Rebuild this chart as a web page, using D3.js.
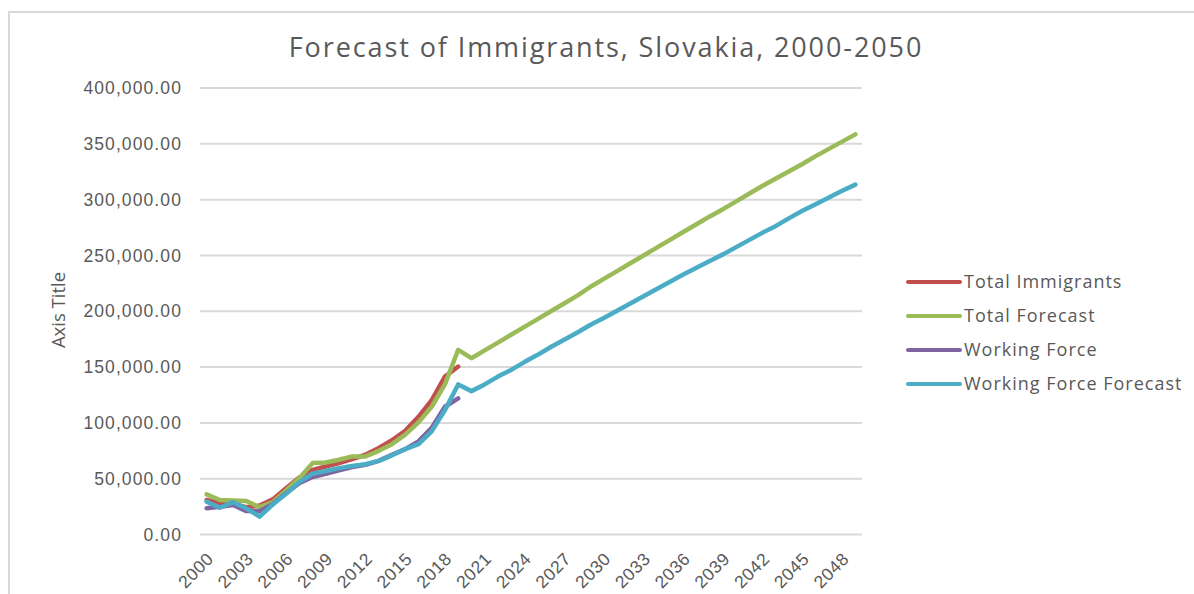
<!DOCTYPE html>
<html>
<head>
<meta charset="utf-8">
<script src="https://cdn.jsdelivr.net/npm/d3@7"></script>
<style>
  html, body { margin: 0; padding: 0; background: #fff; }
  svg { display: block; font-family: "Open Sans", "Liberation Sans", sans-serif; }
</style>
</head>
<body>
<svg id="chart" width="1194" height="594"></svg>
<script>
// Years on the category axis (2000–2049)
const years = d3.range(2000, 2050);

// Observed totals, 2000–2019
const totalImmigrants = [30500, 27500, 27000, 24000, 25500, 31000, 41000, 50500, 57500, 60500,
  63500, 67000, 71000, 77000, 84000, 92500, 105000, 120000, 141000, 150000];

// Total forecast, 2000–2049
const totalForecast = [35500, 30500, 30000, 29500, 24000, 28500, 39000, 50000, 63500, 64000,
  66500, 69500, 69500, 74500, 80500, 89000, 100000, 114000, 134000, 165000,
  157500, 164500, 171500, 178500, 185500, 192500, 199500, 206500, 213500, 221500,
  228500, 235500, 242500, 249500, 256500, 263500, 270500, 277500, 284500, 291000,
  298000, 305000, 312000, 318500, 325000, 331500, 338500, 345000, 351500, 358000];

// Observed working force, 2000–2019
const workingForce = [23000, 24500, 26000, 20500, 20500, 27000, 36500, 45500, 51000, 54000,
  57000, 60000, 62000, 65500, 71000, 76000, 83000, 95000, 114000, 121500];

// Working force forecast, 2000–2049
const workingForceForecast = [29000, 23500, 28500, 23000, 15500, 26500, 36000, 46500, 54000, 56500,
  59000, 61000, 62500, 65500, 70500, 76000, 80500, 92000, 111000, 134000,
  128000, 134000, 141000, 147000, 154000, 160500, 167500, 174000, 180500, 187500,
  193500, 200000, 206500, 213000, 219500, 226000, 232500, 238500, 244500, 250500,
  257000, 263500, 270000, 276000, 283000, 289500, 295500, 301500, 307500, 313000];

const seriesNames = ["Total Immigrants", "Total Forecast", "Working Force", "Working Force Forecast"];
const seriesColors = ["#C0504D", "#9BBB59", "#8064A2", "#4BACC6"];
const seriesValues = [totalImmigrants, totalForecast, workingForce, workingForceForecast];

const yTicks = d3.range(0, 400001, 50000);
const xTickLabels = years.filter((y, i) => i % 3 === 0);

const titleText = "Forecast of Immigrants, Slovakia, 2000-2050";
const yAxisTitle = "Axis Title";

const svg = d3.select("#chart");
const textColor = "#595959";
const gridColor = "#d9d9d9";

// Chart frame
svg.append("rect")
  .attr("x", 9).attr("y", 12)
  .attr("width", 1300).attr("height", 700)
  .attr("fill", "#fff")
  .attr("stroke", gridColor)
  .attr("stroke-width", 2);

const plot = { left: 200, right: 862, top: 87.5, bottom: 534 };

const x = d3.scaleBand().domain(years).range([plot.left, plot.right]);
const y = d3.scaleLinear().domain([0, 400000]).range([plot.bottom, plot.top]);
const px = yr => x(yr) + x.bandwidth() / 2;

// Value axis with gridlines
const yAxis = svg.append("g")
  .attr("transform", `translate(${plot.left},0)`)
  .call(d3.axisLeft(y)
    .tickValues(yTicks)
    .tickFormat(d3.format(",.2f"))
    .tickSize(-(plot.right - plot.left))
    .tickPadding(18));
yAxis.select(".domain").remove();
yAxis.selectAll(".tick line").attr("stroke", gridColor).attr("stroke-width", 2);
yAxis.selectAll(".tick text")
  .attr("fill", textColor)
  .style("font-size", "17.5px")
  .style("letter-spacing", "1.1px")
  .attr("dy", "0.35em");

// Category axis
const xAxis = svg.append("g")
  .attr("transform", `translate(0,${plot.bottom})`)
  .call(d3.axisBottom(x).tickValues(xTickLabels).tickSize(0).tickPadding(0));
xAxis.select(".domain").remove();
xAxis.selectAll(".tick text")
  .attr("fill", textColor)
  .style("font-size", "17.5px")
  .style("letter-spacing", "0.6px")
  .attr("text-anchor", "end")
  .attr("y", 0).attr("dy", 0)
  .attr("transform", "translate(8,26) rotate(-45)");

// Series lines
const line = d3.line()
  .defined(d => d.v != null)
  .x(d => px(d.year))
  .y(d => y(d.v));

seriesValues.forEach((vals, i) => {
  const pts = vals.map((v, j) => ({ year: years[j], v }));
  svg.append("path")
    .datum(pts)
    .attr("fill", "none")
    .attr("stroke", seriesColors[i])
    .attr("stroke-width", 4.5)
    .attr("stroke-linejoin", "round")
    .attr("stroke-linecap", "round")
    .attr("d", line);
});

// Title
svg.append("text")
  .attr("x", 606).attr("y", 57)
  .attr("text-anchor", "middle")
  .attr("fill", textColor)
  .style("font-size", "27px")
  .style("letter-spacing", "1.9px")
  .text(titleText);

// Value axis title
svg.append("text")
  .attr("transform", "translate(65,310) rotate(-90)")
  .attr("text-anchor", "middle")
  .attr("fill", textColor)
  .style("font-size", "18.5px")
  .text(yAxisTitle);

// Legend
const legend = svg.append("g").attr("transform", "translate(908,282)");
seriesNames.forEach((name, i) => {
  const g = legend.append("g").attr("transform", `translate(0,${i * 34})`);
  g.append("line")
    .attr("x1", 0).attr("x2", 52)
    .attr("stroke", seriesColors[i])
    .attr("stroke-width", 4)
    .attr("stroke-linecap", "round");
  g.append("text")
    .attr("x", 56).attr("y", 0).attr("dy", "0.35em")
    .attr("fill", textColor)
    .style("font-size", "18px")
    .style("letter-spacing", "1px")
    .text(name);
});
</script>
</body>
</html>
